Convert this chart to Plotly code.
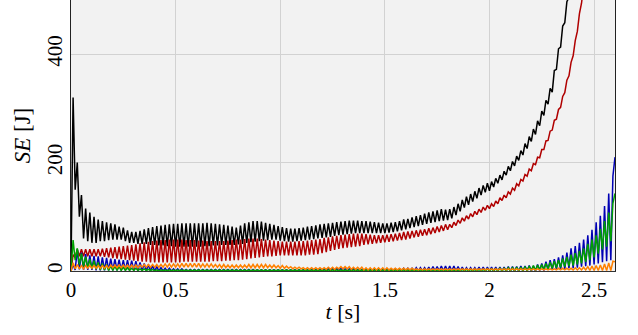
import plotly.graph_objects as go

# time grid: troughs at k*STEP, peaks at k*STEP + STEP/2 (seconds)
STEP = 0.02

x_tickvals = [0, 0.5, 1, 1.5, 2, 2.5]
x_ticktext = ["0", "0.5", "1", "1.5", "2", "2.5"]
y_tickvals = [0, 200, 400]
y_ticktext = ["0", "200", "400"]

# ---- black series (peaks / troughs, J) ----
black_hi = [320, 200, 140, 115, 108, 100, 95, 92, 90, 88,
            86, 82, 80, 75, 72, 72, 74, 77, 79, 81,
            83, 84, 85, 86, 87, 87, 88, 88, 88, 88,
            88, 88, 89, 88, 87, 86, 85, 84, 82, 80,
            84, 88, 90, 92, 92, 91, 89, 87, 85, 83,
            81, 79, 78, 78, 79, 80, 82, 83, 84, 86,
            87, 88, 89, 90, 91, 92, 93, 93, 93, 92,
            92, 91, 90, 89, 88, 88, 89, 90, 92, 95,
            96, 99, 101, 103, 106, 108, 110, 112, 114, 113,
            114, 118, 124, 131, 137, 142, 147, 153, 158, 162,
            165, 171, 177, 184, 193, 202, 212, 222, 235, 248,
            262, 277, 295, 315, 337, 370, 410, 452, 497, 550]
black_lo = [5, 150, 100, 60, 55, 52, 52, 55, 55, 57,
            58, 58, 58, 55, 52, 52, 50, 50, 50, 48,
            48, 47, 47, 46, 46, 45, 45, 45, 45, 45,
            45, 45, 46, 46, 47, 47, 48, 48, 48, 48,
            49, 50, 52, 53, 54, 55, 56, 57, 58, 58,
            56, 55, 54, 54, 55, 56, 57, 58, 59, 60,
            61, 62, 63, 65, 66, 67, 68, 69, 70, 70,
            70, 70, 70, 70, 70, 70, 71, 72, 73, 75,
            77, 79, 81, 83, 85, 87, 89, 90, 92, 93,
            94, 97, 103, 110, 117, 122, 128, 134, 140, 145,
            148, 155, 162, 168, 177, 185, 194, 204, 214, 226,
            239, 252, 268, 287, 308, 330, 372, 413, 458, 505]

# ---- dark red series ----
red_hi = [30, 40, 40, 40, 40, 40, 40, 41, 42, 43,
          44, 45, 46, 47, 48, 49, 51, 53, 54, 55,
          56, 57, 57, 58, 58, 58, 58, 57, 57, 57,
          56, 56, 55, 55, 55, 55, 55, 56, 57, 58,
          58, 59, 60, 60, 60, 59, 58, 57, 56, 55,
          54, 54, 54, 54, 55, 55, 56, 57, 58, 59,
          61, 62, 64, 65, 66, 67, 68, 69, 69, 69,
          68, 67, 66, 66, 66, 67, 68, 69, 70, 72,
          73, 74, 75, 76, 77, 79, 80, 82, 84, 86,
          86, 90, 94, 98, 102, 106, 110, 114, 118, 121,
          124, 129, 135, 140, 146, 153, 161, 169, 178, 188,
          198, 210, 224, 240, 258, 278, 298, 322, 352, 385,
          425, 475, 530]
red_lo = [0, 25, 27, 27, 27, 27, 27, 27, 26, 25,
          24, 23, 22, 21, 20, 19, 18, 17, 17, 16,
          16, 16, 16, 16, 16, 16, 16, 17, 17, 17,
          17, 17, 17, 17, 18, 18, 18, 19, 19, 20,
          20, 21, 22, 23, 24, 25, 26, 27, 27, 28,
          29, 29, 29, 29, 29, 29, 29, 30, 30, 31,
          33, 35, 37, 39, 41, 42, 43, 44, 45, 46,
          48, 49, 50, 51, 52, 53, 54, 55, 56, 57,
          58, 60, 62, 63, 65, 66, 68, 70, 72, 74,
          76, 80, 84, 88, 92, 96, 100, 104, 108, 112,
          115, 119, 124, 130, 135, 142, 149, 157, 166, 175,
          185, 196, 209, 224, 241, 260, 280, 302, 329, 360,
          397, 442, 494, 560]

# ---- blue series ----
blue_hi = [12, 40, 34, 31, 29, 28, 27, 25, 24, 23,
           22, 21, 20, 20, 19, 18, 16, 14, 12, 10,
           8, 6, 5, 5, 4, 4, 4, 3, 3, 3,
           3, 3, 3, 3, 3, 3, 3, 3, 3, 3,
           3, 3, 3, 3, 2, 2, 2, 2, 2, 2,
           2, 2, 2, 2, 2, 2, 2, 3, 3, 4,
           4, 5, 5, 5, 5, 4, 4, 4, 3, 3,
           3, 3, 3, 3, 3, 3, 3, 4, 4, 5,
           5, 5, 6, 6, 6, 7, 8, 8, 9, 9,
           9, 9, 8, 7, 6, 6, 6, 7, 7, 7,
           7, 7, 7, 7, 8, 8, 8, 9, 9, 10,
           9, 12, 14, 17, 20, 22, 25, 29, 34, 42,
           46, 52, 58, 66, 76, 90, 102, 120, 143, 175]
blue_lo = [0, 2, 3, 2, 2, 2, 1, 1, 1, 1,
           1, 1, 1, 1, 1, 1, 1, 1, 0, 0,
           0, 0, 0, 0, 0, 0, 0, 0, 0, 0,
           0, 0, 0, 0, 0, 0, 0, 0, 0, 0,
           0, 0, 0, 0, 0, 0, 0, 0, 0, 0,
           0, 0, 0, 0, 0, 0, 0, 0, 0, 0,
           0, 0, 0, 0, 0, 0, 0, 0, 0, 0,
           0, 0, 0, 0, 0, 0, 0, 0, 0, 0,
           0, 0, 0, 0, 0, 0, 0, 0, 0, 0,
           0, 0, 0, 0, 0, 0, 0, 0, 0, 0,
           0, 0, 0, 0, 0, 0, 0, 0, 0, 0,
           0, 0, 1, 1, 2, 2, 3, 3, 4, 5,
           5, 6, 8, 9, 10, 12, 14, 16, 18, 20,
           210]

# ---- green series ----
green_hi = [57, 42, 32, 26, 22, 19, 16, 14, 12, 10,
            9, 8, 7, 6, 5, 5, 4, 4, 3, 3,
            2, 2, 2, 2, 2, 2, 2, 2, 2, 2,
            2, 2, 2, 2, 2, 2, 2, 2, 2, 2,
            2, 2, 2, 2, 2, 2, 2, 2, 2, 2,
            2, 2, 2, 2, 2, 2, 2, 2, 2, 2,
            2, 2, 2, 2, 2, 2, 2, 2, 2, 2,
            2, 2, 2, 2, 2, 2, 2, 2, 2, 2,
            2, 2, 2, 2, 2, 2, 2, 2, 2, 2,
            2, 2, 2, 3, 3, 3, 3, 3, 3, 4,
            4, 4, 5, 5, 6, 6, 7, 7, 8, 9,
            10, 11, 12, 14, 16, 18, 20, 23, 26, 30,
            33, 37, 42, 50, 58, 66, 78, 92, 108, 125]
green_lo = [0, 20, 12, 8, 6, 4, 3, 2, 2, 1,
            1, 1, 1, 1, 1, 1, 1, 1, 1, 1,
            0, 0, 0, 0, 0, 0, 0, 0, 0, 0,
            0, 0, 0, 0, 0, 0, 0, 0, 0, 0,
            0, 0, 0, 0, 0, 0, 0, 0, 0, 0,
            0, 0, 0, 0, 0, 0, 0, 0, 0, 0,
            0, 0, 0, 0, 0, 0, 0, 0, 0, 0,
            0, 0, 0, 0, 0, 0, 0, 0, 0, 0,
            0, 0, 0, 0, 0, 0, 0, 0, 0, 0,
            0, 0, 0, 0, 0, 0, 0, 0, 0, 0,
            0, 0, 0, 0, 0, 0, 0, 0, 0, 0,
            1, 1, 2, 3, 4, 5, 6, 7, 8, 9,
            10, 12, 14, 17, 20, 25, 32, 40, 45, 55,
            143]

# ---- orange series ----
orange_hi = [15, 12, 10, 10, 10, 10, 10, 10, 10, 11,
             11, 11, 11, 11, 11, 11, 11, 12, 12, 12,
             12, 12, 13, 13, 13, 13, 14, 14, 14, 14,
             14, 13, 13, 13, 12, 12, 12, 11, 11, 11,
             11, 11, 12, 12, 12, 12, 12, 11, 11, 10,
             10, 9, 8, 7, 7, 6, 6, 6, 6, 6,
             6, 7, 7, 7, 8, 8, 8, 7, 7, 7,
             6, 6, 6, 6, 6, 6, 5, 5, 5, 5,
             5, 5, 4, 4, 4, 4, 4, 4, 4, 4,
             4, 4, 4, 4, 4, 4, 4, 4, 4, 4,
             4, 4, 4, 4, 4, 4, 4, 4, 4, 4,
             4, 4, 4, 4, 4, 4, 5, 5, 5, 5,
             6, 6, 7, 8, 9, 10, 11, 13, 15, 18]
orange_lo = [0, 4, 4, 4, 5, 5, 5, 5, 5, 5,
             6, 6, 6, 6, 6, 6, 6, 7, 7, 7,
             7, 7, 7, 7, 7, 7, 7, 7, 7, 7,
             7, 7, 7, 7, 7, 7, 6, 6, 6, 6,
             6, 6, 6, 6, 6, 6, 6, 6, 6, 6,
             5, 5, 5, 4, 4, 4, 3, 3, 3, 3,
             3, 3, 3, 3, 4, 4, 4, 3, 3, 3,
             2, 2, 2, 2, 2, 2, 2, 2, 2, 2,
             2, 2, 2, 2, 2, 2, 2, 2, 2, 2,
             2, 2, 2, 2, 2, 2, 2, 2, 2, 2,
             2, 2, 2, 2, 2, 2, 2, 2, 2, 2,
             2, 2, 2, 2, 2, 2, 2, 2, 2, 2,
             2, 2, 2, 2, 1, 1, 1, 1, 1, 1,
             17]


def zigzag(lo, hi):
    xs, ys = [], []
    for k in range(max(len(lo), len(hi))):
        if k < len(lo):
            xs.append(round(k * STEP, 4))
            ys.append(lo[k])
        if k < len(hi):
            xs.append(round(k * STEP + STEP / 2, 4))
            ys.append(hi[k])
    return xs, ys


series = [
    ("black", black_lo, black_hi, "#000000"),
    ("red", red_lo, red_hi, "#b00000"),
    ("blue", blue_lo, blue_hi, "#0000b4"),
    ("green", green_lo, green_hi, "#00a000"),
    ("orange", orange_lo, orange_hi, "#ff8000"),
]

FONT = "Liberation Serif"

fig = go.Figure()
for name, lo, hi, color in series:
    xs, ys = zigzag(lo, hi)
    fig.add_trace(go.Scatter(x=xs, y=ys, mode="lines", name=name,
                             line=dict(color=color, width=1.5),
                             hoverinfo="skip"))

fig.update_layout(
    width=638, height=335,
    margin=dict(l=71, r=23, t=0, b=64, autoexpand=False),
    plot_bgcolor="#f2f2f2", paper_bgcolor="white",
    showlegend=False,
    font=dict(family=FONT, size=21, color="black"),
)
fig.update_xaxes(
    automargin=False,
    range=[0, 2.6], tickvals=x_tickvals, ticktext=x_ticktext,
    showgrid=True, gridcolor="#d2d2d2", gridwidth=1, zeroline=False,
    showline=True, linecolor="#333333", linewidth=1,
    ticks="",
    title=dict(text="<i>t</i> [s]", font=dict(size=22, family=FONT), standoff=2),
)
fig.update_yaxes(
    automargin=False,
    range=[0, 500], tickvals=y_tickvals, ticktext=y_ticktext, tickangle=-90,
    showgrid=True, gridcolor="#d2d2d2", gridwidth=1, zeroline=False,
    showline=True, mirror=True, linecolor="#222222", linewidth=1,
    ticks="",
    title=dict(text="<i>SE</i> [J]", font=dict(size=23, family=FONT), standoff=5),
)

fig.write_html("out.html", config={"displayModeBar": False},
               post_script="document.body.style.margin='0';document.body.style.padding='0';")
